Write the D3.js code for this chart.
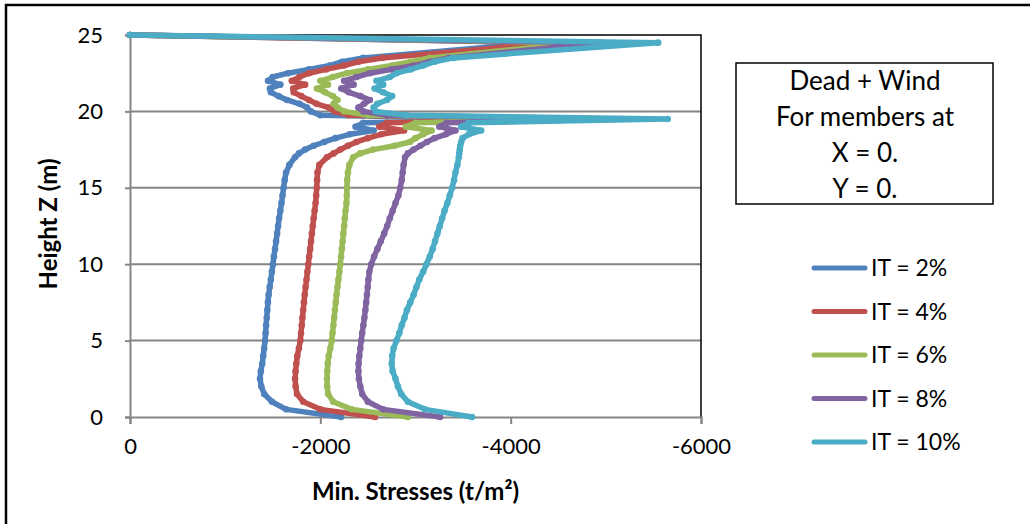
<!DOCTYPE html>
<html><head><meta charset="utf-8">
<script src="https://cdn.jsdelivr.net/npm/d3@7"></script>
<style>
html,body{margin:0;padding:0;background:#fff;}
svg{display:block;font-family:Lato,"Open Sans",sans-serif;}
</style></head>
<body><svg id="c" width="1030" height="524"></svg>
<script>
// Heights (m)
const heights = [0,0.5,1,1.5,2,2.5,3,3.5,4,4.5,5,5.5,6,6.5,7,7.5,8,8.5,9,9.5,10,10.5,11,11.5,12,12.5,13,13.5,14,14.5,15,15.5,16,16.5,17,17.25,17.5,17.75,18,18.25,18.5,18.75,19,19.25,19.5,19.75,20,20.25,20.5,20.75,21,21.25,21.5,21.75,22,22.25,22.5,22.75,23,23.25,23.5,24.5,25];
const seriesNames = ["IT = 2%","IT = 4%","IT = 6%","IT = 8%","IT = 10%"];
const it2 = [-2218,-1640,-1492,-1410,-1380,-1366,-1375,-1390,-1400,-1410,-1419,-1425,-1430,-1437,-1443,-1449,-1457,-1468,-1480,-1491,-1502,-1512,-1524,-1535,-1546,-1556,-1567,-1580,-1592,-1603,-1614,-1625,-1640,-1675,-1734,-1775,-1840,-1930,-2040,-2160,-2310,-2560,-2370,-2450,-4300,-2000,-1900,-1860,-1780,-1650,-1560,-1480,-1470,-1580,-1450,-1500,-1660,-1880,-2100,-2230,-2450,-4300,0];
const it4 = [-2575,-2000,-1820,-1755,-1740,-1735,-1740,-1748,-1758,-1775,-1790,-1797,-1805,-1812,-1820,-1828,-1836,-1845,-1855,-1864,-1874,-1883,-1893,-1902,-1911,-1920,-1930,-1940,-1950,-1957,-1962,-1966,-1970,-1990,-2070,-2140,-2210,-2290,-2380,-2500,-2640,-2880,-2620,-2700,-4600,-2300,-2150,-2090,-1960,-1880,-1800,-1720,-1715,-1840,-1700,-1780,-1880,-2060,-2250,-2400,-2650,-4500,0];
const it6 = [-2920,-2330,-2135,-2082,-2072,-2070,-2073,-2078,-2088,-2105,-2120,-2128,-2137,-2145,-2153,-2162,-2170,-2180,-2190,-2200,-2210,-2218,-2226,-2234,-2242,-2250,-2257,-2265,-2275,-2278,-2280,-2282,-2290,-2305,-2345,-2420,-2555,-2780,-2940,-3000,-3080,-3170,-2900,-3000,-4900,-2500,-2250,-2180,-2140,-2180,-2130,-2050,-1965,-2080,-2000,-2130,-2280,-2500,-2750,-2950,-3150,-4750,0];
const it8 = [-3258,-2660,-2500,-2440,-2420,-2405,-2400,-2402,-2410,-2420,-2430,-2440,-2452,-2463,-2473,-2482,-2490,-2498,-2505,-2515,-2535,-2565,-2600,-2635,-2670,-2702,-2730,-2760,-2790,-2820,-2840,-2855,-2865,-2875,-2890,-2920,-2980,-3050,-3120,-3200,-3320,-3420,-3250,-3330,-5150,-2700,-2450,-2400,-2460,-2520,-2420,-2300,-2220,-2350,-2250,-2380,-2520,-2750,-2980,-3150,-3350,-4950,0];
const it10 = [-3594,-3100,-2920,-2850,-2815,-2790,-2760,-2750,-2755,-2770,-2800,-2830,-2855,-2885,-2910,-2945,-2980,-3010,-3040,-3080,-3115,-3150,-3180,-3205,-3230,-3255,-3280,-3305,-3335,-3360,-3385,-3405,-3420,-3440,-3455,-3460,-3465,-3470,-3480,-3495,-3560,-3690,-3480,-3560,-5650,-2900,-2580,-2560,-2600,-2700,-2755,-2660,-2570,-2660,-2590,-2730,-2800,-2950,-3080,-3200,-3400,-5550,0];
const seriesValues = [it2,it4,it6,it8,it10];
const colors = ["#4F81BD","#C0504D","#9BBB59","#8064A2","#4BACC6"];
const xTicks = [0,-2000,-4000,-6000];
const yTicks = [0,5,10,15,20,25];
const boxLines = ["Dead + Wind","For members at","X = 0.","Y = 0."];

const svg = d3.select("#c");
const L=130,R=701,T=35,B=417;
const x = d3.scaleLinear().domain([0,-6000]).range([L,R]);
const y = d3.scaleLinear().domain([0,25]).range([B,T]);

// outer frame (top and left visible)
svg.append("path").attr("d","M6,524 L6,5 L1030,5").attr("fill","none").attr("stroke","#000").attr("stroke-width",2.5);

// gridlines
svg.append("g").selectAll("line").data(yTicks.slice(1,-1)).join("line")
  .attr("x1",L).attr("x2",R).attr("y1",d=>y(d)).attr("y2",d=>y(d))
  .attr("stroke","#868686").attr("stroke-width",2);

// plot border top/right
svg.append("path").attr("d",`M${L},${T} L${R},${T} L${R},${B}`).attr("fill","none").attr("stroke","#000").attr("stroke-width",1.5);

// axes
const xAxis = d3.axisBottom(x).tickValues(xTicks).tickSize(7).tickPadding(14)
  .tickFormat(d=>d===0?"0":(d<0?"-":"")+Math.abs(d));
const gx = svg.append("g").attr("transform",`translate(0,${B})`).call(xAxis);
gx.select(".domain").attr("stroke","#868686").attr("stroke-width",2);
gx.selectAll(".tick line").attr("stroke","#868686").attr("stroke-width",2);
gx.selectAll("text").attr("font-size",22).attr("fill","#000").attr("font-family","Lato");

const yAxis = d3.axisLeft(y).tickValues(yTicks).tickSize(5).tickPadding(22);
const gy = svg.append("g").attr("transform",`translate(${L},0)`).call(yAxis);
gy.select(".domain").attr("stroke","#868686").attr("stroke-width",2);
gy.selectAll(".tick line").attr("stroke","#868686").attr("stroke-width",2);
gy.selectAll("text").attr("font-size",22).attr("fill","#000").attr("font-family","Lato");

// axis titles
svg.append("text").attr("x",(L+R)/2).attr("y",500).attr("text-anchor","middle")
  .attr("font-size",24).attr("font-weight","bold").text("Min. Stresses (t/m²)");
svg.append("text").attr("transform","translate(57,224) rotate(-90)").attr("text-anchor","middle")
  .attr("font-size",24).attr("font-weight","bold").text("Height Z (m)");

// series
const line = d3.line().x(d=>x(d[1])).y(d=>y(d[0]));
seriesValues.forEach((vals,i)=>{
  const pts = heights.map((h,j)=>[h,vals[j]]);
  const g = svg.append("g");
  g.append("path").attr("d",line(pts)).attr("fill","none").attr("stroke",colors[i])
    .attr("stroke-width",5.5).attr("stroke-linejoin","round").attr("stroke-linecap","round");
  g.selectAll("circle").data(pts).join("circle")
    .attr("cx",d=>x(d[1])).attr("cy",d=>y(d[0])).attr("r",3.3).attr("fill",colors[i]);
});

// text box
svg.append("rect").attr("x",736).attr("y",63).attr("width",257).attr("height",141)
  .attr("fill","#fff").attr("stroke","#000").attr("stroke-width",1.5);
boxLines.forEach((t,i)=>{
  svg.append("text").attr("x",865).attr("y",90+i*36).attr("text-anchor","middle")
    .attr("font-size",26).text(t);
});

// legend
seriesNames.forEach((n,i)=>{
  const yy = 268 + i*43.5;
  svg.append("line").attr("x1",814).attr("x2",865).attr("y1",yy).attr("y2",yy)
    .attr("stroke",colors[i]).attr("stroke-width",5).attr("stroke-linecap","round");
  svg.append("text").attr("x",871).attr("y",yy+8).attr("font-size",23).text(n);
});
</script></body></html>
